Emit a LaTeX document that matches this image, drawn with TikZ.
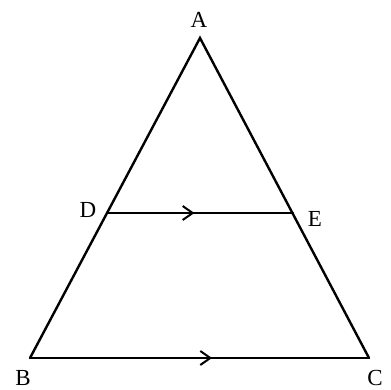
\documentclass[tikz,border=0pt]{standalone}
\usepackage{fontspec}
\setmainfont{Liberation Serif}
\usetikzlibrary{arrows.meta,decorations.markings}
\begin{document}
\begin{tikzpicture}[x=1pt,y=-1pt,
  edge/.style={line width=2.4pt,line cap=round,line join=miter},
  lbl/.style={font=\fontsize{23}{23}\selectfont,inner sep=0pt,anchor=base},
  midarrow/.style={postaction={decorate},decoration={markings,
    mark=at position #1 with {\arrow[line width=2pt]{Straight Barb[length=10pt,width=14pt]}}}}]
\useasboundingbox (0,0) rectangle (391,389);
\coordinate (A) at (200,38);
\coordinate (B) at (30,358);
\coordinate (C) at (369,358);
\coordinate (D) at (107,213);
\coordinate (E) at (293,213);
\draw[edge] (B) -- (A) -- (C);
\draw[edge,midarrow=0.47] (D) -- (E);
\draw[edge,midarrow=0.537] (B) -- (C);
\node[lbl] (lA) at (199,27) {A};
\node[lbl] (lB) at (23,385) {B};
\node[lbl] (lC) at (375,385) {C};
\node[lbl] (lD) at (88,217) {D};
\node[lbl] (lE) at (315,226) {E};
\end{tikzpicture}
\end{document}
